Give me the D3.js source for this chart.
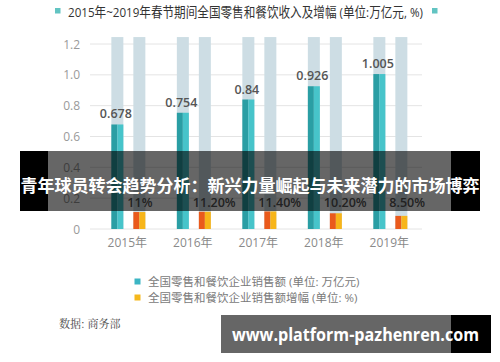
<!DOCTYPE html>
<html>
<head>
<meta charset="utf-8">
<script src="https://cdn.jsdelivr.net/npm/d3@7/dist/d3.min.js"></script>
<style>
  body { margin: 0; background: #fff; }
  text { font-family: 'Open Sans', 'Noto Sans CJK SC', sans-serif; }
</style>
</head>
<body>
<svg id="chart" width="500" height="362"></svg>
<script>
// data
const years = ['2015年', '2016年', '2017年', '2018年', '2019年']
const sales = [0.678, 0.754, 0.84, 0.926, 1.005]
const salesLabels = ['0.678', '0.754', '0.84', '0.926', '1.005']
const growth = [11, 11.2, 11.4, 10.2, 8.5]
const growthLabels = ['11%', '11.20%', '11.40%', '10.20%', '8.50%']
const yTicks = [0, 0.2, 0.4, 0.6, 0.8, 1.0, 1.2]
const trackMax = 1.245

const title = '2015年~2019年春节期间全国零售和餐饮收入及增幅 (单位:万亿元, %)'
const legendItems = ['全国零售和餐饮企业销售额 (单位: 万亿元)', '全国零售和餐饮企业销售额增幅 (单位: %)']
const source = '数据: 商务部'
const bannerText = '青年球员转会趋势分析：新兴力量崛起与未来潜力的市场博弈'
const siteText = 'www.platform-pazhenren.com'

const svg = d3.select('#chart')

const x = d3.scaleBand().domain(years).range([95.6, 423.1])
const y = d3.scaleLinear().domain([0, 1.2]).range([229, 44])
const cx = d => x(d) + x.bandwidth() / 2
const barW = 12

// title
svg.append('rect').attr('x', 55).attr('y', 8).attr('width', 5.5).attr('height', 5.5).attr('fill', '#62c4c2')
svg.append('rect').attr('x', 432).attr('y', 8).attr('width', 5.5).attr('height', 5.5).attr('fill', '#62c4c2')
svg.append('text')
  .attr('x', 68).attr('y', 17)
  .attr('font-size', 13.5)
  .attr('fill', '#333')
  .attr('textLength', 355)
  .attr('lengthAdjust', 'spacingAndGlyphs')
  .text(title)

// grid
svg.append('g').selectAll('line').data(yTicks).join('line')
  .attr('x1', 90).attr('x2', 422)
  .attr('y1', d => y(d)).attr('y2', d => y(d))
  .attr('stroke', '#e4e4e4').attr('stroke-width', 1)

svg.append('g').selectAll('text').data(yTicks).join('text')
  .attr('x', 80).attr('y', d => y(d) + 4.5)
  .attr('text-anchor', 'end')
  .attr('font-size', 12)
  .attr('fill', '#9a9a9a')
  .text(d => d === 0 ? '0' : d3.format('.1f')(d))

// tracks
const g = svg.append('g')
years.forEach((yr, i) => {
  const tx = cx(yr) - 17
  const ox = cx(yr) + 5
  ;[tx, ox].forEach(bx => {
    g.append('rect')
      .attr('x', bx).attr('width', barW)
      .attr('y', y(trackMax)).attr('height', y(0) - y(trackMax))
      .attr('fill', '#cddde4')
  })
  // sales bar, two tones
  g.append('rect').attr('x', tx).attr('width', barW / 2)
    .attr('y', y(sales[i])).attr('height', y(0) - y(sales[i]))
    .attr('fill', '#2a9ea4')
  g.append('rect').attr('x', tx + barW / 2).attr('width', barW / 2)
    .attr('y', y(sales[i])).attr('height', y(0) - y(sales[i]))
    .attr('fill', '#47c4ca')
  // growth bar, two tones
  const gv = growth[i] / 100
  g.append('rect').attr('x', ox).attr('width', barW / 2)
    .attr('y', y(gv)).attr('height', y(0) - y(gv))
    .attr('fill', '#ea5a1c')
  g.append('rect').attr('x', ox + barW / 2).attr('width', barW / 2)
    .attr('y', y(gv)).attr('height', y(0) - y(gv))
    .attr('fill', '#f7b519')

  g.append('text')
    .attr('x', tx + barW / 2 - 1.5).attr('y', y(sales[i]) - 6)
    .attr('text-anchor', 'middle')
    .attr('font-size', 12.5).attr('font-weight', 600)
    .attr('fill', '#555')
    .text(salesLabels[i])

  g.append('text')
    .attr('x', ox - 6).attr('y', y(d3.max(growth) / 100) - 4)
    .attr('font-size', 12.5).attr('font-weight', 600)
    .attr('fill', '#555')
    .text(growthLabels[i])
})

// x labels
svg.append('g').selectAll('text').data(years).join('text')
  .attr('x', d => cx(d) - 1)
  .attr('y', 247)
  .attr('text-anchor', 'middle')
  .attr('font-size', 12)
  .attr('fill', '#8a8a8a')
  .text(d => d)

// legend
const legColors = ['#3cb5c4', '#f5b81c']
legendItems.forEach((t, i) => {
  svg.append('rect').attr('x', 134.5).attr('y', 278.5 + i * 16).attr('width', 6).attr('height', 6).attr('fill', legColors[i])
  svg.append('text').attr('x', 148).attr('y', 286 + i * 16)
    .attr('font-size', 11.5).attr('fill', '#7a7a7a')
    .text(t)
})

// source
svg.append('text').attr('x', 59).attr('y', 328)
  .attr('font-size', 11).attr('fill', '#444')
  .style('font-family', "'Noto Serif CJK SC', serif")
  .text(source)

// overlay band
svg.append('rect').attr('x', 20).attr('y', 151).attr('width', 28).attr('height', 60).attr('fill', '#000')
svg.append('rect').attr('x', 48).attr('y', 151).attr('width', 403).attr('height', 60).attr('fill', 'rgba(0,0,0,0.6)')
svg.append('rect').attr('x', 451).attr('y', 151).attr('width', 29).attr('height', 60).attr('fill', '#000')
svg.append('text')
  .attr('x', 20.5).attr('y', 192)
  .attr('font-size', 17.5).attr('font-weight', 700)
  .attr('fill', '#fff')
  .attr('textLength', 459)
  .attr('lengthAdjust', 'spacingAndGlyphs')
  .style('font-family', "'Noto Sans CJK SC', sans-serif")
  .text(bannerText)

// site banner
svg.append('rect').attr('x', 221).attr('y', 315).attr('width', 230).attr('height', 38).attr('fill', 'rgba(0,0,0,0.6)')
svg.append('rect').attr('x', 451).attr('y', 315).attr('width', 40).attr('height', 38).attr('fill', '#000')
svg.append('text')
  .attr('x', 232).attr('y', 341)
  .attr('font-size', 17).attr('font-weight', 700)
  .attr('fill', '#fff')
  .attr('textLength', 247)
  .attr('lengthAdjust', 'spacingAndGlyphs')
  .text(siteText)
</script>
</body>
</html>
